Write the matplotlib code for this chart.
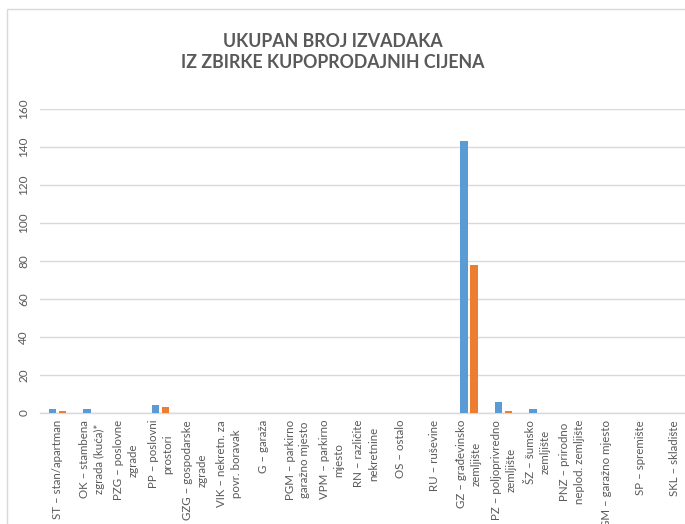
import matplotlib
matplotlib.use("Agg")
import matplotlib.pyplot as plt
import numpy as np
from matplotlib.patches import Rectangle

# vrste nekretnina (oznake na x osi)
kategorije = [
    "ST – stan/apartman",
    "OK – stambena\nzgrada (kuća)*",
    "PZG – poslovne\nzgrade",
    "PP – poslovni\nprostori",
    "GZG – gospodarske\nzgrade",
    "VIK – nekretn. za\npovr. boravak",
    "G – garaža",
    "PGM – parkirno\ngaražno mjesto",
    "VPM – parkirno\nmjesto",
    "RN – različite\nnekretnine",
    "OS – ostalo",
    "RU – ruševine",
    "GZ – građevinsko\nzemljište",
    "PZ – poljoprivredno\nzemljište",
    "ŠZ – šumsko\nzemljište",
    "PNZ – prirodno\nneplod. zemljište",
    "GM – garažno mjesto",
    "SP – spremište",
    "SKL – skladište",
]
serija_1 = [2, 2, 0, 4, 0, 0, 0, 0, 0, 0, 0, 0, 143, 6, 2, 0, 0, 0, 0]
serija_2 = [1, 0, 0, 3, 0, 0, 0, 0, 0, 0, 0, 0, 78, 1, 0, 0, 0, 0, 0]
y_oznake = [0, 20, 40, 60, 80, 100, 120, 140, 160]

plt.rcParams['font.family'] = ['Lato', 'DejaVu Sans']
siva = '#595959'
linija = '#d9d9d9'

W, H = 685, 524
fig = plt.figure(figsize=(W / 100, H / 100), dpi=100)

# okvir grafikona
fig.patches.append(Rectangle((7 / W, -0.1), 1.2, (H - 9) / H + 0.1,
                             transform=fig.transFigure, fill=False,
                             edgecolor=linija, linewidth=1))

ax = fig.add_axes([40.4 / W, (H - 413) / H, 651.6 / W, 304 / H])

x = np.arange(len(kategorije))
sirina = 0.225
ax.bar(x - 0.146, serija_1, width=sirina, color='#5B9BD5', zorder=3)
ax.bar(x + 0.146, serija_2, width=sirina, color='#ED7D31', zorder=3)

ax.set_xlim(-0.5, len(kategorije) - 0.5)
ax.set_ylim(0, 160)
ax.set_yticks(y_oznake)
ax.set_yticklabels([str(v) for v in y_oznake], rotation=90, va='center',
                   color=siva, fontsize=8.5)
ax.set_xticks(x)
ax.set_xticklabels(kategorije, rotation=90, ha='center', va='top',
                   multialignment='center', color=siva, fontsize=8.3,
                   linespacing=1.4)
ax.tick_params(axis='both', length=0)
ax.tick_params(axis='y', pad=8)
ax.tick_params(axis='x', pad=5)

ax.grid(axis='y', color=linija, linewidth=1, zorder=0)
for s in ['top', 'right', 'left']:
    ax.spines[s].set_visible(False)
ax.spines['bottom'].set_color(linija)
ax.spines['bottom'].set_linewidth(1)

fig.text(333 / W, 1 - 52 / H, "UKUPAN BROJ IZVADAKA\nIZ ZBIRKE KUPOPRODAJNIH CIJENA",
         ha='center', va='center', fontsize=12.8, fontweight='bold', color=siva,
         linespacing=1.35)

fig.savefig("out.png", dpi=100)
